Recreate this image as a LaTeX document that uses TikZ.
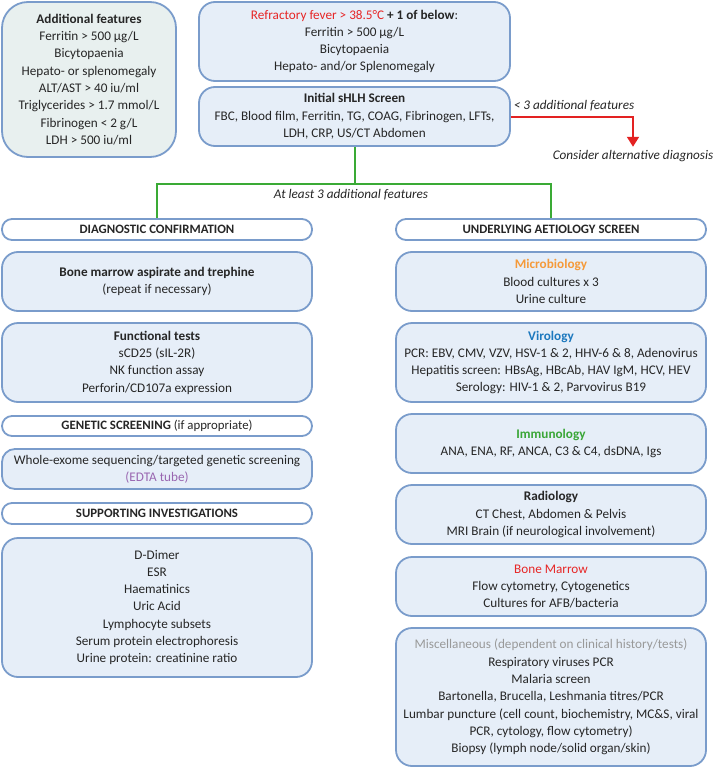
\documentclass[tikz,border=0pt]{standalone}
\usepackage{fontspec}
\setmainfont{Carlito}
\usetikzlibrary{arrows.meta}
\definecolor{boxline}{HTML}{7A9CCB}
\definecolor{boxfill}{HTML}{E6EEF8}
\definecolor{featfill}{HTML}{E8F0EF}
\definecolor{redtxt}{HTML}{E62626}
\definecolor{orangetxt}{HTML}{F59A3A}
\definecolor{bluetxt}{HTML}{1C78BE}
\definecolor{greentxt}{HTML}{3AA637}
\definecolor{greytxt}{HTML}{999999}
\definecolor{purpletxt}{HTML}{9966B0}
\definecolor{linegreen}{HTML}{3AAA35}
\definecolor{linered}{HTML}{E32222}

\begin{document}
\begin{tikzpicture}[x=1pt,y=-1pt,
        every node/.style={font=\fontsize{13.2}{17.3}\selectfont,text=black!85},
        box/.style={draw=boxline,fill=boxfill,line width=1.8pt,rounded corners=16pt,align=center,inner sep=0pt,minimum width=310pt},
        featbox/.style={box,fill=featfill,rounded corners=26pt,minimum width=174pt},
        pill/.style={draw=boxline,fill=white,line width=1.8pt,rounded corners=10pt,align=center,inner sep=0pt,minimum width=310pt,minimum height=21pt,font=\fontsize{12.8}{15}\selectfont},
        lbl/.style={font=\fontsize{13.2}{15}\selectfont\itshape},
        greenline/.style={draw=linegreen,line width=2pt},
        redline/.style={draw=linered,line width=2pt,-{Triangle[width=12pt,length=10pt]}}]
                        \useasboundingbox (0,0) rectangle (714,768);

                        % top row
                        \node (addf) at (89,79.5) [featbox,minimum height=155pt] {\textbf{Additional features}\\Ferritin > 500 µg/L\\Bicytopaenia\\Hepato- or splenomegaly\\ALT/AST > 40 iu/ml\\Triglycerides > 1.7 mmol/L\\Fibrinogen < 2 g/L\\LDH > 500 iu/ml};
                        \node (fever) at (354.5,41.5) [box,minimum width=311pt,minimum height=79pt] {\textcolor{redtxt}{Refractory fever > 38.5°C} \textbf{+ 1 of below}:\\Ferritin > 500 µg/L\\Bicytopaenia\\Hepato- and/or Splenomegaly};
                        \node (screen) at (354.5,116.5) [box,minimum width=311pt,minimum height=59pt] {\textbf{Initial sHLH Screen}\\FBC, Blood film, Ferritin, TG, COAG, Fibrinogen, LFTs,\\LDH, CRP, US/CT Abdomen};
                        \node (lt3) at (574,106) [lbl] {< 3 additional features};
                        \node (alt) at (633,156) [lbl] {Consider alternative diagnosis};
                        \node (ge3) at (351,195) [lbl] {At least 3 additional features};

                        % left column
                        \node (diag) at (157,229.5) [pill] {\textbf{DIAGNOSTIC CONFIRMATION}};
                        \node (bm) at (157,281.5) [box,minimum height=59pt] {\textbf{Bone marrow aspirate and trephine}\\(repeat if necessary)};
                        \node (func) at (157,362.5) [box,minimum height=79pt] {\textbf{Functional tests}\\sCD25 (sIL-2R)\\NK function assay\\Perforin/CD107a expression};
                        \node (gen) at (157,426) [pill,minimum height=20pt] {\textbf{GENETIC SCREENING} (if appropriate)};
                        \node (wes) at (157,469) [box,minimum height=40pt,rounded corners=13pt] {Whole-exome sequencing/targeted genetic screening\\\textcolor{purpletxt}{(EDTA tube)}};
                        \node (supp) at (157,513.5) [pill] {\textbf{SUPPORTING INVESTIGATIONS}};
                        \node (suppl) at (157,607.5) [box,minimum height=139pt] {D-Dimer\\ESR\\Haematinics\\Uric Acid\\Lymphocyte subsets\\Serum protein electrophoresis\\Urine protein: creatinine ratio};

                        % right column
                        \node (aet) at (551,229.5) [pill] {\textbf{UNDERLYING AETIOLOGY SCREEN}};
                        \node (micro) at (551,281.5) [box,minimum height=59pt] {\textcolor{orangetxt}{\textbf{Microbiology}}\\Blood cultures x 3\\Urine culture};
                        \node (viro) at (551,362.5) [box,minimum height=79pt] {\textcolor{bluetxt}{\textbf{Virology}}\\PCR: EBV, CMV, VZV, HSV-1 \& 2, HHV-6 \& 8, Adenovirus\\Hepatitis screen: HBsAg, HBcAb, HAV IgM, HCV, HEV\\Serology: HIV-1 \& 2, Parvovirus B19};
                        \node (immu) at (551,443.5) [box,minimum height=59pt] {\textcolor{greentxt}{\textbf{Immunology}}\\ANA, ENA, RF, ANCA, C3 \& C4, dsDNA, Igs};
                        \node (radio) at (551,514.5) [box,minimum height=59pt] {\textbf{Radiology}\\CT Chest, Abdomen \& Pelvis\\MRI Brain (if neurological involvement)};
                        \node (bmar) at (551,586.5) [box,minimum height=59pt] {\textcolor{redtxt}{Bone Marrow}\\Flow cytometry, Cytogenetics\\Cultures for AFB/bacteria};
                        \node (misc) at (551,697) [box,minimum height=138pt] {\textcolor{greytxt}{Miscellaneous (dependent on clinical history/tests)}\\Respiratory viruses PCR\\Malaria screen\\Bartonella, Brucella, Leshmania titres/PCR\\Lumbar puncture (cell count, biochemistry, MC\&S, viral\\PCR, cytology, flow cytometry)\\Biopsy (lymph node/solid organ/skin)};

                    \draw[redline] (screen.east) -| (alt.north);
                    \draw[greenline] (screen.south) -- ++(0,37) coordinate (gj);
                    \draw[greenline] (diag.north) |- (gj) -| (aet.north);
                \end{tikzpicture}
\end{document}
